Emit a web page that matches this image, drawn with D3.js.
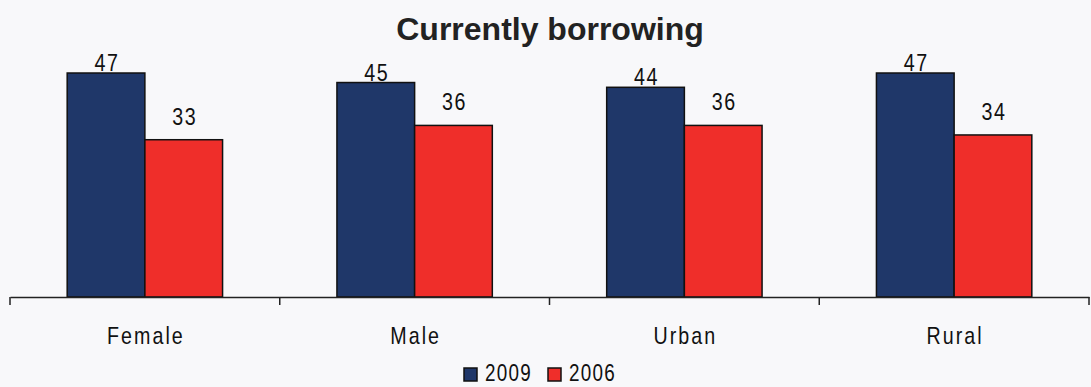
<!DOCTYPE html>
<html lang="en">
  <head>
    <meta charset="utf-8">
    <title>Currently borrowing</title>
    <script type="text/javascript" src="https://cdn.jsdelivr.net/npm/d3@7"></script>
    <style>
      body { margin: 0; background: #f8f8fa; }
      text { font-family: "Liberation Sans", Arial, sans-serif; fill: #111; }
    </style>
  </head>
  <body>
    <script type="text/javascript">
    // chart data
    var categories = ["Female", "Male", "Urban", "Rural"];
    var seriesNames = ["2009", "2006"];
    var values2009 = [47, 45, 44, 47];
    var values2006 = [33, 36, 36, 34];
    var colors = ["#1f3769", "#ef2e2a"];

    var w = 1091;
    var h = 387;
    var baseline = 297;
    var squeeze = 0.82; // the original labels use a narrow face

    var svg = d3.select("body")
                .append("svg")
                .attr("width", w)
                .attr("height", h);

    // band scale for categories, axis runs full width
    var xScale = d3.scaleBand()
                   .domain(categories)
                   .range([10, 1089])
                   .padding(0);

    var barW = xScale.bandwidth() * 0.288;

    var yScale = d3.scaleLinear()
                   .domain([0, 47])
                   .range([baseline, 73]);

    // helper for narrow text
    var narrow = function(x, y) {
      return "translate(" + x + "," + y + ") scale(" + squeeze + ",1)";
    }

    // title
    svg.append("text")
       .attr("x", 550)
       .attr("y", 40)
       .attr("text-anchor", "middle")
       .style("font-weight", "bold")
       .style("font-size", "32px")
       .style("fill", "#222")
       .text("Currently borrowing");

    var series = [values2009, values2006];

    series.forEach(function(vals, s) {
      var g = svg.append("g");
      g.selectAll("rect")
       .data(vals)
       .enter()
       .append("rect")
       .attr("x", function(d, i) {
         return xScale(categories[i]) + xScale.bandwidth() / 2 - barW + s * barW;
       })
       .attr("y", function(d) { return yScale(d); })
       .attr("width", barW)
       .attr("height", function(d) { return baseline - yScale(d); })
       .attr("fill", colors[s])
       .attr("stroke", "#111")
       .attr("stroke-width", 1.5);

      // value labels (2006 labels sit higher above the bar, as in the original)
      g.selectAll("text")
       .data(vals)
       .enter()
       .append("text")
       .attr("transform", function(d, i) {
         var x = xScale(categories[i]) + xScale.bandwidth() / 2 - barW / 2 + s * barW + 1;
         var y = yScale(d) - (s == 0 ? 2 : 15);
         return narrow(x, y);
       })
       .attr("text-anchor", "middle")
       .style("font-size", "24px")
       .style("letter-spacing", "2px")
       .text(function(d) { return d; });
    });

    // x axis
    var xAxis = d3.axisBottom(xScale).tickSize(0).tickFormat("");
    var axisG = svg.append("g")
       .attr("transform", "translate(0," + baseline + ")")
       .call(xAxis);
    axisG.select(".domain").attr("stroke", "#222").attr("stroke-width", 1.5);

    // tick marks at category boundaries
    var bounds = categories.map(function(c) { return xScale(c); }).concat([xScale.range()[1]]);
    axisG.selectAll("line.bound")
       .data(bounds)
       .enter()
       .append("line")
       .attr("class", "bound")
       .attr("x1", function(d) { return d; })
       .attr("x2", function(d) { return d; })
       .attr("y1", 0)
       .attr("y2", 8)
       .attr("stroke", "#222")
       .attr("stroke-width", 1.5);

    // category labels
    svg.selectAll("text.cat")
       .data(categories)
       .enter()
       .append("text")
       .attr("class", "cat")
       .attr("transform", function(d) {
         return narrow(xScale(d) + xScale.bandwidth() / 2 + 1, 344);
       })
       .attr("text-anchor", "middle")
       .style("font-size", "24px")
       .style("letter-spacing", "2.5px")
       .text(function(d) { return d; });

    // legend (kept just inside the bottom edge)
    var legX = [464, 548];
    var leg = svg.selectAll("g.leg")
       .data(seriesNames)
       .enter()
       .append("g")
       .attr("class", "leg")
       .attr("transform", function(d, i) { return "translate(" + legX[i] + ",368)"; });
    leg.append("rect")
       .attr("width", 13)
       .attr("height", 13)
       .attr("fill", function(d, i) { return colors[i]; })
       .attr("stroke", "#111")
       .attr("stroke-width", 1.5);
    leg.append("text")
       .attr("transform", narrow(21, 13))
       .style("font-size", "23px")
       .style("letter-spacing", "1.5px")
       .text(function(d) { return d; });
    </script>
  </body>
</html>
